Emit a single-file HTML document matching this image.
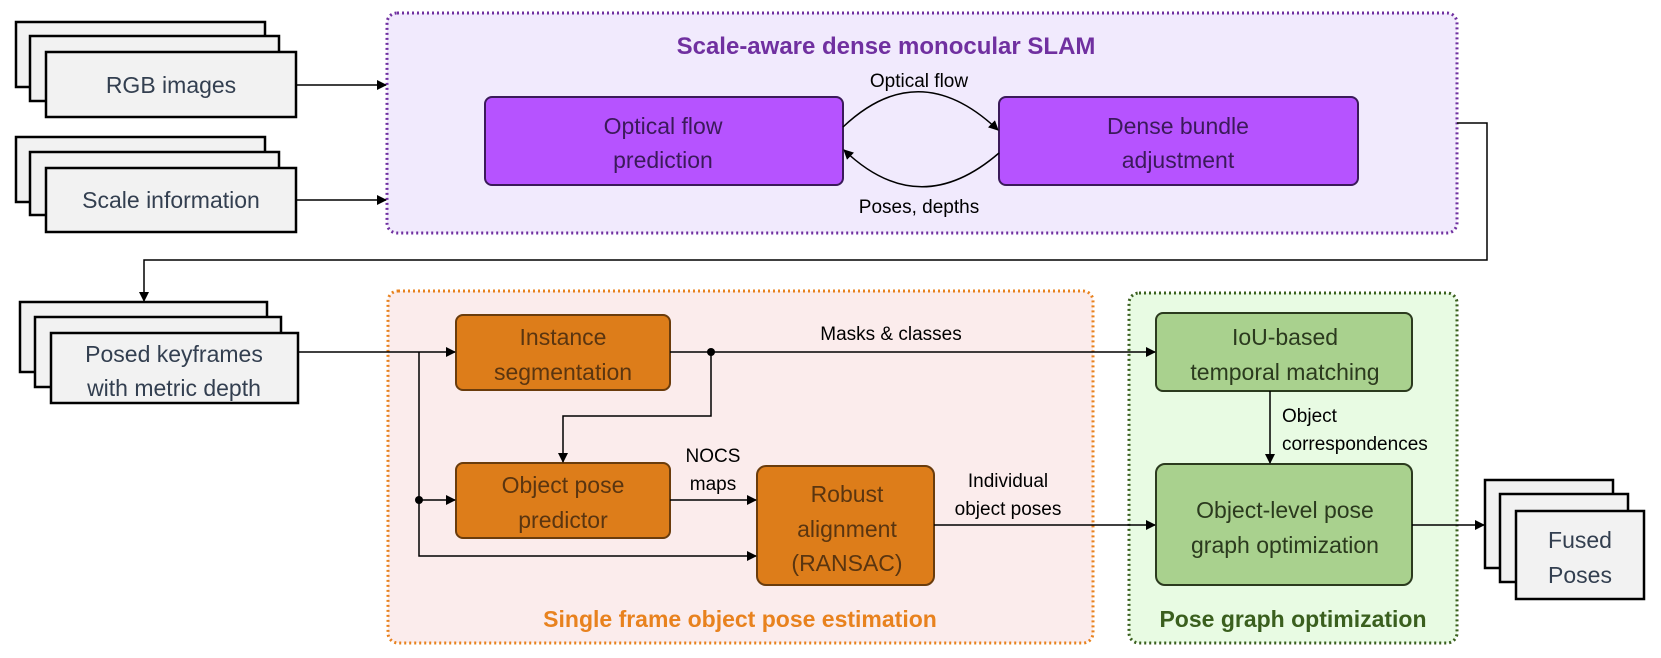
<!DOCTYPE html>
<html><head><meta charset="utf-8"><style>
html,body{margin:0;padding:0;background:#fff}
svg{display:block;font-family:"Liberation Sans",sans-serif}
</style></head><body>
<svg width="1661" height="658" viewBox="0 0 1661 658" xmlns="http://www.w3.org/2000/svg">
<defs>
<marker id="a" markerWidth="10" markerHeight="10" refX="9" refY="5" orient="auto" markerUnits="userSpaceOnUse"><path d="M0,0 L10,5 L0,10 z" fill="#000"/></marker>
</defs>
<rect x="387" y="13" width="1070" height="220" rx="10" fill="#f1eafd" stroke="#7030a0" stroke-width="3" stroke-dasharray="2,3"/>
<rect x="388" y="291" width="705" height="352" rx="10" fill="#fbecec" stroke="#e8821e" stroke-width="3" stroke-dasharray="2,3"/>
<rect x="1129" y="293" width="328" height="350" rx="10" fill="#e8fbe3" stroke="#3a5f1e" stroke-width="3" stroke-dasharray="2,3"/>
<text x="886" y="54" text-anchor="middle" font-size="24" font-weight="bold" fill="#7030a0">Scale-aware dense monocular SLAM</text>
<text x="740" y="627" text-anchor="middle" font-size="23" font-weight="bold" fill="#e8821e">Single frame object pose estimation</text>
<text x="1293" y="627" text-anchor="middle" font-size="23" font-weight="bold" fill="#3a5f1e">Pose graph optimization</text>

<g fill="#f2f2f2" stroke="#000" stroke-width="2.5">
<rect x="16" y="22" width="249" height="65"/><rect x="30" y="36" width="249" height="65"/><rect x="46" y="52" width="250" height="65"/>
<rect x="16" y="137" width="249" height="65"/><rect x="30" y="152" width="249" height="63"/><rect x="46" y="168" width="250" height="64"/>
<rect x="20" y="302" width="247" height="70"/><rect x="35" y="317" width="246" height="70"/><rect x="51" y="333" width="247" height="70"/>
<rect x="1485" y="480" width="128" height="88"/><rect x="1500" y="494" width="128" height="88"/><rect x="1516" y="511" width="128" height="88"/>
</g>
<g font-size="23" fill="#333f50" text-anchor="middle">
<text x="171" y="93">RGB images</text>
<text x="171" y="208">Scale information</text>
<text x="174" y="362">Posed keyframes</text>
<text x="174" y="396">with metric depth</text>
<text x="1580" y="548">Fused</text>
<text x="1580" y="583">Poses</text>
</g>

<g stroke-width="2">
<rect x="485" y="97" width="358" height="88" rx="7" fill="#b653ff" stroke="#3b1a5a"/>
<rect x="999" y="97" width="359" height="88" rx="7" fill="#b653ff" stroke="#3b1a5a"/>
<rect x="456" y="315" width="214" height="75" rx="7" fill="#dd7d1a" stroke="#6a3c0c"/>
<rect x="456" y="463" width="214" height="75" rx="7" fill="#dd7d1a" stroke="#6a3c0c"/>
<rect x="757" y="466" width="177" height="119" rx="9" fill="#dd7d1a" stroke="#6a3c0c"/>
<rect x="1156" y="313" width="256" height="78" rx="7" fill="#a9d18e" stroke="#2b3a1e"/>
<rect x="1156" y="464" width="256" height="121" rx="9" fill="#a9d18e" stroke="#2b3a1e"/>
</g>
<g font-size="23" text-anchor="middle">
<g fill="#3b1a5a"><text x="663" y="134">Optical flow</text><text x="663" y="168">prediction</text>
<text x="1178" y="134">Dense bundle</text><text x="1178" y="168">adjustment</text></g>
<g fill="#5a3510"><text x="563" y="345">Instance</text><text x="563" y="380">segmentation</text>
<text x="563" y="493">Object pose</text><text x="563" y="528">predictor</text>
<text x="847" y="502">Robust</text><text x="847" y="537">alignment</text><text x="847" y="571">(RANSAC)</text></g>
<g fill="#2b3a1e"><text x="1285" y="345">IoU-based</text><text x="1285" y="380">temporal matching</text>
<text x="1285" y="518">Object-level pose</text><text x="1285" y="553">graph optimization</text></g>
</g>

<g font-size="19" fill="#000">
<text x="919" y="87" text-anchor="middle">Optical flow</text>
<text x="919" y="213" text-anchor="middle">Poses, depths</text>
<text x="891" y="340" text-anchor="middle">Masks &amp; classes</text>
<text x="713" y="462" text-anchor="middle">NOCS</text>
<text x="713" y="490" text-anchor="middle">maps</text>
<text x="1008" y="487" text-anchor="middle">Individual</text>
<text x="1008" y="515" text-anchor="middle">object poses</text>
<text x="1282" y="422">Object</text>
<text x="1282" y="450">correspondences</text>
</g>

<g stroke="#000" stroke-width="1.5" fill="none">
<line x1="296" y1="85" x2="386" y2="85" marker-end="url(#a)"/>
<line x1="296" y1="200" x2="386" y2="200" marker-end="url(#a)"/>
<path d="M843,127 Q919,55 998,130" marker-end="url(#a)"/>
<path d="M999,153 Q919,222 844,150" marker-end="url(#a)"/>
<path d="M1457,123 H1487 V260 H144 V301" marker-end="url(#a)"/>
<line x1="298" y1="352" x2="455" y2="352" marker-end="url(#a)"/>
<path d="M419,352 V556 H756" marker-end="url(#a)"/>
<line x1="419" y1="500" x2="455" y2="500" marker-end="url(#a)"/>
<line x1="670" y1="352" x2="1155" y2="352" marker-end="url(#a)"/>
<path d="M711,352 V416 H563 V462" marker-end="url(#a)"/>
<line x1="670" y1="500" x2="756" y2="500" marker-end="url(#a)"/>
<line x1="934" y1="525" x2="1155" y2="525" marker-end="url(#a)"/>
<line x1="1270" y1="391" x2="1270" y2="463" marker-end="url(#a)"/>
<line x1="1412" y1="525" x2="1484" y2="525" marker-end="url(#a)"/>
</g>
<circle cx="419" cy="500" r="4"/>
<circle cx="711" cy="352" r="4"/>
</svg>
</body></html>
